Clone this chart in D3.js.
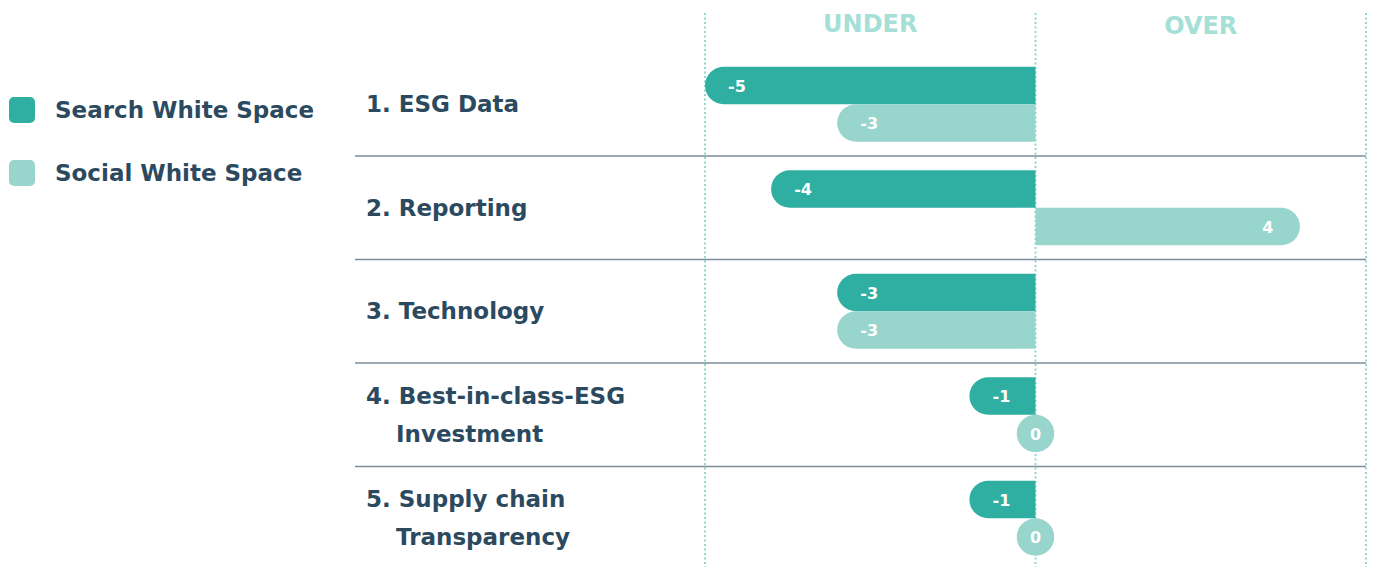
<!DOCTYPE html>
<html>
<head>
<meta charset="utf-8">
<script src="https://cdn.jsdelivr.net/npm/d3@7"></script>
<style>
  body { margin: 0; background: #fff; }
  svg { display: block; font-family: "DejaVu Sans", sans-serif; }
</style>
</head>
<body>
<div id="chart"></div>
<script>
// data
const categories = [
  ["1. ESG Data"],
  ["2. Reporting"],
  ["3. Technology"],
  ["4. Best-in-class-ESG", "Investment"],
  ["5. Supply chain", "Transparency"]
];
const searchValues = [-5, -4, -3, -1, -1];
const socialValues = [-3, 4, -3, 0, 0];
const seriesNames = ["Search White Space", "Social White Space"];
const sideLabels = ["UNDER", "OVER"];

const width = 1373, height = 567;
const colors = ["#2fafa1", "#97d5cd"];
const textColor = "#2c4a5f";

const svg = d3.select("#chart").append("svg")
  .attr("width", width)
  .attr("height", height);

const x = d3.scaleLinear().domain([-5, 5]).range([705, 1366]);
const y = d3.scaleBand().domain(d3.range(categories.length)).range([52.5, 570]);
const barH = 37.5;

// dotted guide lines
[-5, 0, 5].forEach((v) => {
  svg.append("line")
    .attr("x1", x(v)).attr("x2", x(v))
    .attr("y1", 13).attr("y2", height)
    .attr("stroke", "#8fd8d0")
    .attr("stroke-width", 2)
    .attr("stroke-dasharray", "2,2.5");
});

// under / over headings
svg.selectAll(".side")
  .data(sideLabels)
  .join("text")
  .attr("x", (d, i) => i === 0 ? (x(-5) + x(0)) / 2 : (x(0) + x(5)) / 2)
  .attr("y", (d, i) => i === 0 ? 32 : 34)
  .attr("text-anchor", "middle")
  .attr("font-size", "24px")
  .attr("font-weight", 700)
  .attr("fill", "#a5dfd7")
  .text((d) => d);

// row separators
d3.range(1, categories.length).forEach((i) => {
  svg.append("line")
    .attr("x1", 355).attr("x2", 1366)
    .attr("y1", y(i)).attr("y2", y(i))
    .attr("stroke", "#7d8c9a")
    .attr("stroke-width", 1.3);
});

// bar path: square at zero, round at the outer end
function barPath(v, top) {
  const r = barH / 2;
  const x0 = x(0), x1 = x(v);
  if (v === 0) {
    return `M${x0 - r},${top + r} a${r},${r} 0 1,0 ${2 * r},0 a${r},${r} 0 1,0 ${-2 * r},0Z`;
  }
  const s = v < 0 ? -1 : 1;
  return `M${x0},${top} L${x1 - s * r},${top} A${r},${r} 0 0,${s > 0 ? 1 : 0} ${x1 - s * r},${top + barH} L${x0},${top + barH}Z`;
}

const rows = svg.selectAll(".row")
  .data(categories)
  .join("g")
  .attr("class", "row")
  .attr("transform", (d, i) => `translate(0,${y(i) + y.bandwidth() / 2})`);

[searchValues, socialValues].forEach((vals, si) => {
  rows.append("path")
    .attr("d", (d, i) => barPath(vals[i], si === 0 ? -barH : 0))
    .attr("fill", colors[si]);

  rows.append("text")
    .attr("x", (d, i) => vals[i] === 0 ? x(0) : x(vals[i]) - Math.sign(vals[i]) * 32)
    .attr("y", (si === 0 ? -barH / 2 : barH / 2) + 6)
    .attr("text-anchor", "middle")
    .attr("font-size", "16px")
    .attr("font-weight", 700)
    .attr("fill", "#fff")
    .text((d, i) => vals[i]);
});

// category labels
rows.each(function (d) {
  const g = d3.select(this);
  const lh = 38;
  const startY = -(d.length - 1) * lh / 2 + 8;
  d.forEach((line, li) => {
    g.append("text")
      .attr("x", li === 0 ? 366 : 396)
      .attr("y", startY + li * lh)
      .attr("font-size", "23px")
      .attr("font-weight", 700)
      .attr("fill", textColor)
      .text(line);
  });
});

// legend
const legend = svg.selectAll(".legend")
  .data(seriesNames)
  .join("g")
  .attr("transform", (d, i) => `translate(9,${97 + i * 63})`);

legend.append("rect")
  .attr("width", 26).attr("height", 26)
  .attr("rx", 5)
  .attr("fill", (d, i) => colors[i]);

legend.append("text")
  .attr("x", 46)
  .attr("y", 21)
  .attr("font-size", "23px")
  .attr("font-weight", 700)
  .attr("fill", textColor)
  .text((d) => d);
</script>
</body>
</html>
